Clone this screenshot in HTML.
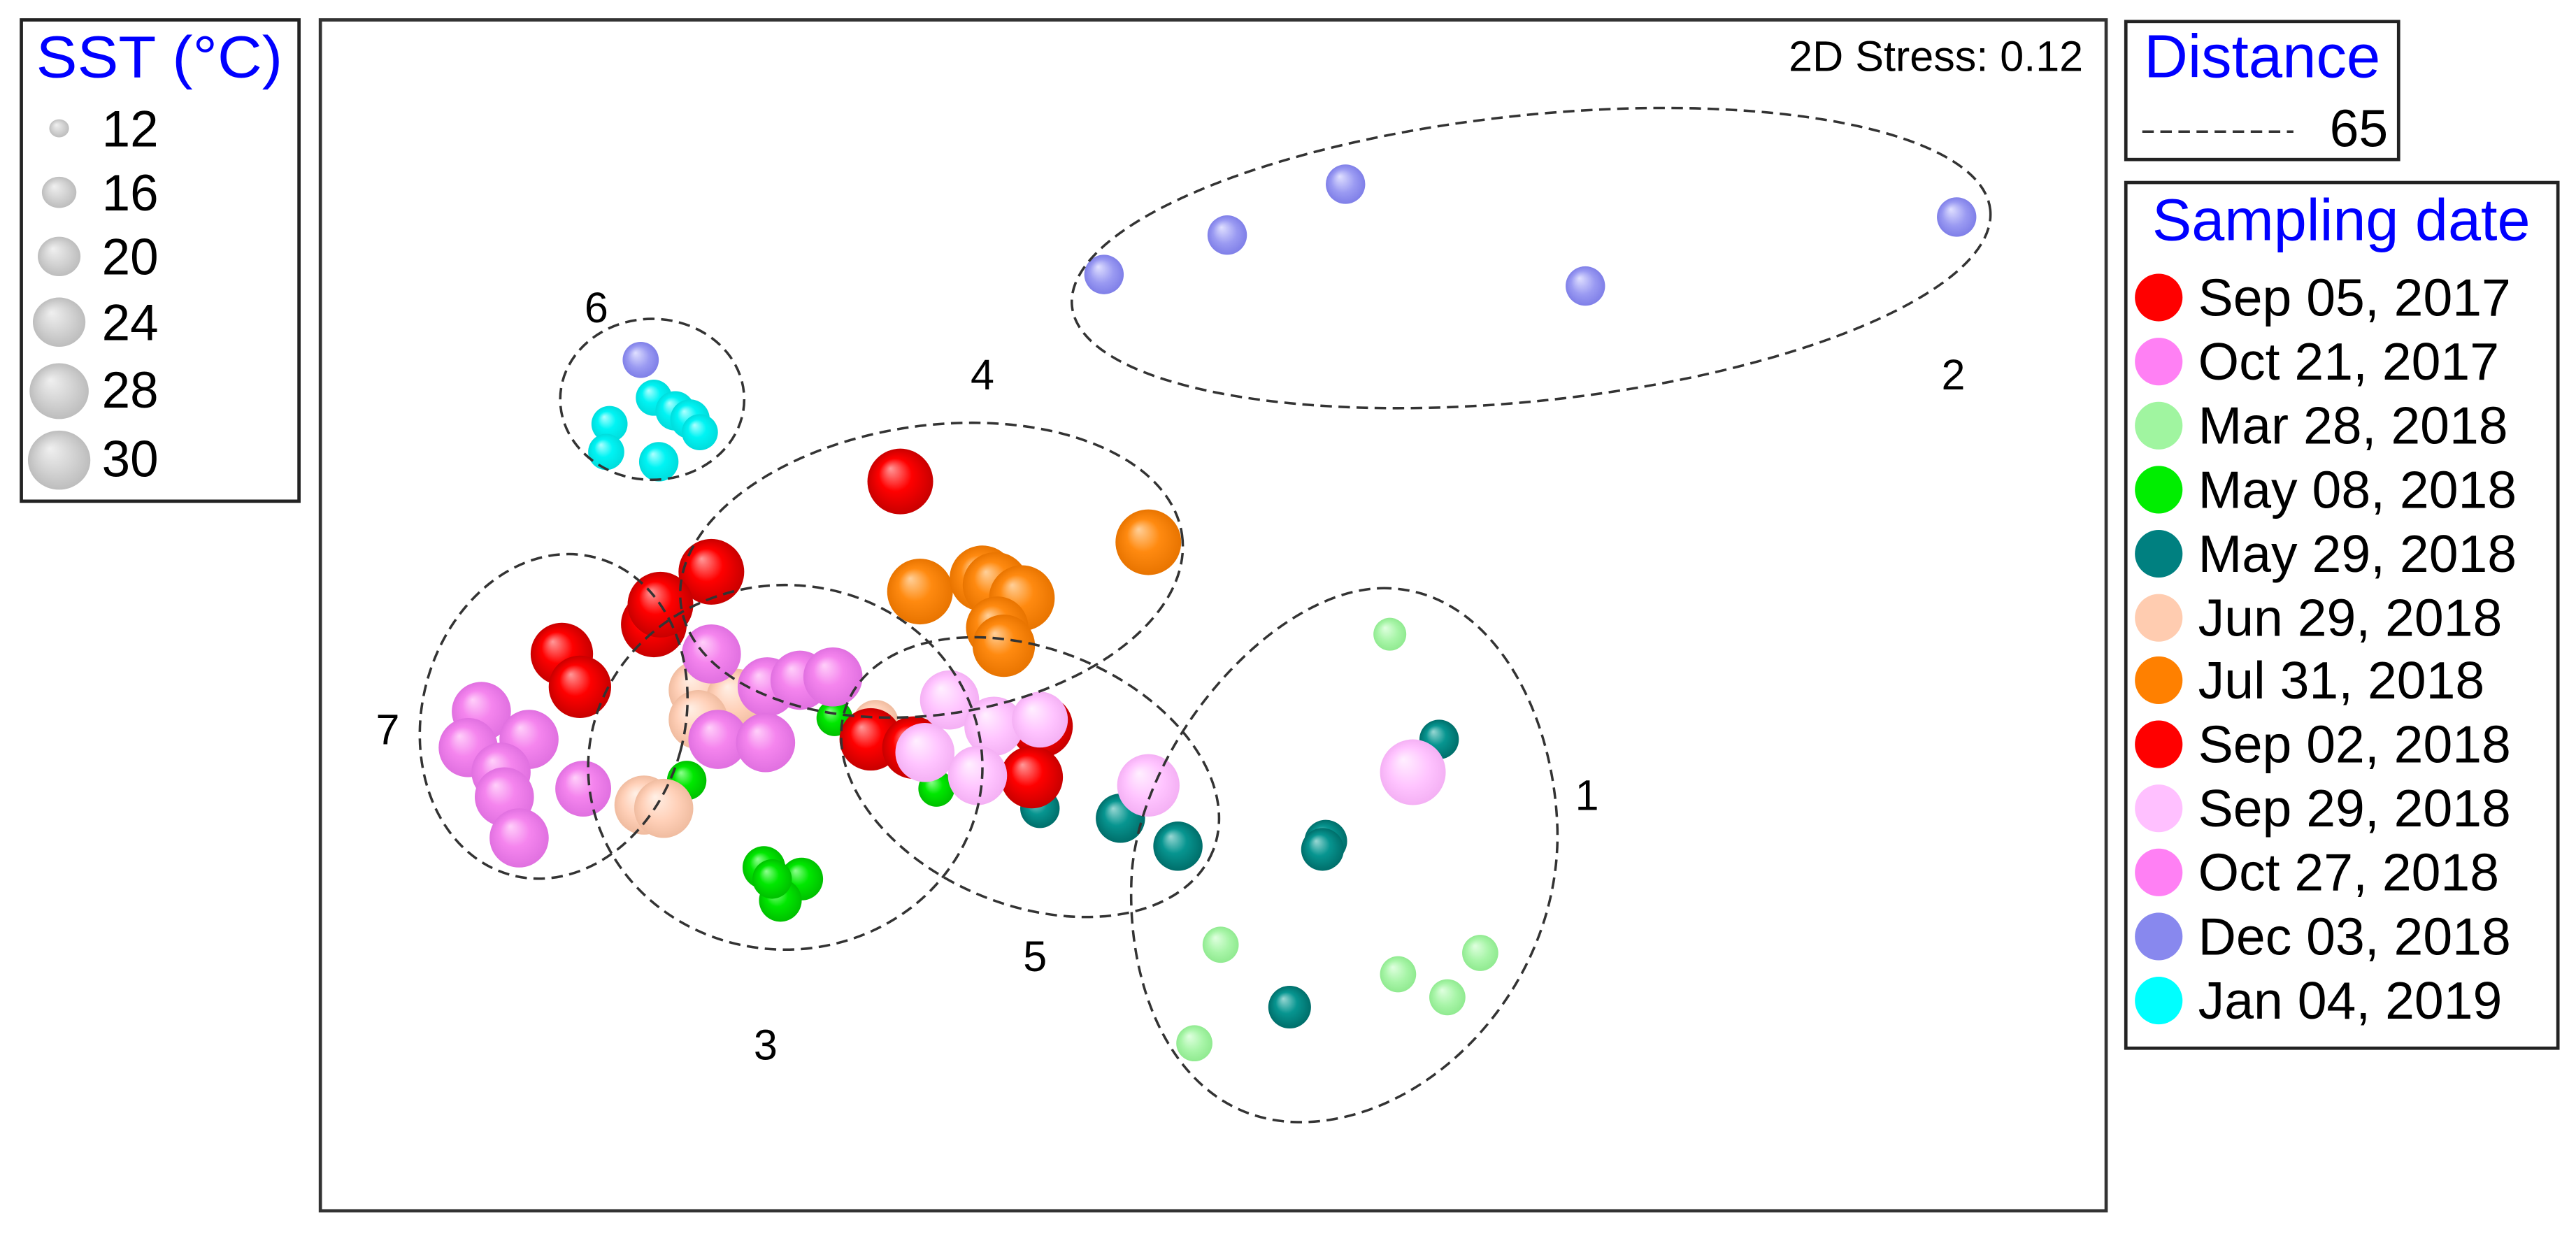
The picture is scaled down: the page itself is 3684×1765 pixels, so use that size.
<!DOCTYPE html>
<html><head><meta charset="utf-8"><style>
html,body{margin:0;padding:0;background:#fff;}
svg{display:block;}
text{font-family:"Liberation Sans",Arial,sans-serif;}
</style></head><body>
<svg width="3684" height="1765" viewBox="0 0 1568 751" xmlns="http://www.w3.org/2000/svg">
<defs>
<radialGradient id="gr" cx="0.5" cy="0.5" r="0.5" fx="0.35" fy="0.3"><stop offset="0" stop-color="#ff9a9a"/><stop offset="0.5" stop-color="#f00"/><stop offset="1" stop-color="#c80000"/></radialGradient>
<radialGradient id="gp" cx="0.5" cy="0.5" r="0.5" fx="0.35" fy="0.3"><stop offset="0" stop-color="#ffd0fa"/><stop offset="0.5" stop-color="#f585ee"/><stop offset="1" stop-color="#e070e0"/></radialGradient>
<radialGradient id="glg" cx="0.5" cy="0.5" r="0.5" fx="0.35" fy="0.3"><stop offset="0" stop-color="#e0ffe0"/><stop offset="0.6" stop-color="#a8f5a8"/><stop offset="1" stop-color="#90ea90"/></radialGradient>
<radialGradient id="gg" cx="0.5" cy="0.5" r="0.5" fx="0.35" fy="0.3"><stop offset="0" stop-color="#90ff90"/><stop offset="0.5" stop-color="#00e800"/><stop offset="1" stop-color="#00c000"/></radialGradient>
<radialGradient id="gt" cx="0.5" cy="0.5" r="0.5" fx="0.35" fy="0.3"><stop offset="0" stop-color="#9ad8d4"/><stop offset="0.5" stop-color="#079590"/><stop offset="1" stop-color="#006e6a"/></radialGradient>
<radialGradient id="gpe" cx="0.5" cy="0.5" r="0.5" fx="0.35" fy="0.3"><stop offset="0" stop-color="#fff0e6"/><stop offset="0.6" stop-color="#ffd0b8"/><stop offset="1" stop-color="#f0bca0"/></radialGradient>
<radialGradient id="go" cx="0.5" cy="0.5" r="0.5" fx="0.35" fy="0.3"><stop offset="0" stop-color="#ffd09a"/><stop offset="0.5" stop-color="#ff8a10"/><stop offset="1" stop-color="#e87400"/></radialGradient>
<radialGradient id="glp" cx="0.5" cy="0.5" r="0.5" fx="0.35" fy="0.3"><stop offset="0" stop-color="#fff0ff"/><stop offset="0.6" stop-color="#ffc4ff"/><stop offset="1" stop-color="#f4b0f4"/></radialGradient>
<radialGradient id="gl" cx="0.5" cy="0.5" r="0.5" fx="0.35" fy="0.3"><stop offset="0" stop-color="#e0e0ff"/><stop offset="0.6" stop-color="#9a9af2"/><stop offset="1" stop-color="#7f7fe8"/></radialGradient>
<radialGradient id="gc" cx="0.5" cy="0.5" r="0.5" fx="0.35" fy="0.3"><stop offset="0" stop-color="#b0ffff"/><stop offset="0.5" stop-color="#00f4f4"/><stop offset="1" stop-color="#00dcdc"/></radialGradient>
<radialGradient id="ggr" cx="0.5" cy="0.5" r="0.5" fx="0.35" fy="0.3"><stop offset="0" stop-color="#f0f0f0"/><stop offset="0.6" stop-color="#d2d2d2"/><stop offset="1" stop-color="#bdbdbd"/></radialGradient>
</defs>

<!-- SST legend -->
<rect x="13" y="12" width="169" height="293" fill="#fff" stroke="#222" stroke-width="2"/>
<text x="22" y="47" font-size="36" fill="#0000ff" textLength="150" lengthAdjust="spacingAndGlyphs">SST (°C)</text>
<g fill="url(#ggr)">
<ellipse cx="36" cy="78" rx="6" ry="5.5"/>
<ellipse cx="36" cy="117" rx="10.5" ry="9.5"/>
<ellipse cx="36" cy="156" rx="13" ry="12"/>
<ellipse cx="36" cy="196" rx="16" ry="15"/>
<ellipse cx="36" cy="238" rx="18" ry="17"/>
<ellipse cx="36" cy="280" rx="19" ry="18"/>
</g>
<g font-size="31" fill="#000">
<text x="62" y="89">12</text><text x="62" y="128">16</text><text x="62" y="167">20</text>
<text x="62" y="207">24</text><text x="62" y="248">28</text><text x="62" y="290">30</text>
</g>

<!-- main plot -->
<rect x="195" y="12" width="1087" height="725" fill="none" stroke="#333" stroke-width="2"/>
<text x="1268" y="43" font-size="26" text-anchor="end" fill="#000">2D Stress: 0.12</text>

<!-- distance legend -->
<rect x="1294" y="13" width="166" height="84" fill="#fff" stroke="#222" stroke-width="2"/>
<text x="1305" y="47" font-size="37" fill="#0000ff">Distance</text>
<line x1="1304" y1="80" x2="1396" y2="80" stroke="#333" stroke-width="1.5" stroke-dasharray="7,4"/>
<text x="1418" y="89" font-size="32" fill="#000">65</text>

<!-- sampling legend -->
<rect x="1294" y="111" width="263" height="527" fill="#fff" stroke="#222" stroke-width="2"/>
<text x="1310" y="146" font-size="36" fill="#0000ff">Sampling date</text>
<g>
<circle cx="1314" cy="181" r="14.5" fill="#ff0000"/>
<circle cx="1314" cy="220" r="14.5" fill="#ff80f4"/>
<circle cx="1314" cy="259" r="14.5" fill="#a0f5a0"/>
<circle cx="1314" cy="298" r="14.5" fill="#00ee00"/>
<circle cx="1314" cy="337" r="14.5" fill="#008080"/>
<circle cx="1314" cy="376" r="14.5" fill="#ffccb0"/>
<circle cx="1314" cy="414" r="14.5" fill="#ff8000"/>
<circle cx="1314" cy="453" r="14.5" fill="#ff0000"/>
<circle cx="1314" cy="492" r="14.5" fill="#ffc0ff"/>
<circle cx="1314" cy="531" r="14.5" fill="#ff80f4"/>
<circle cx="1314" cy="570" r="14.5" fill="#8888ee"/>
<circle cx="1314" cy="609" r="14.5" fill="#00ffff"/>
</g>
<g font-size="32" fill="#000">
<text x="1338" y="192">Sep 05, 2017</text>
<text x="1338" y="231">Oct 21, 2017</text>
<text x="1338" y="270">Mar 28, 2018</text>
<text x="1338" y="309">May 08, 2018</text>
<text x="1338" y="348">May 29, 2018</text>
<text x="1338" y="387">Jun 29, 2018</text>
<text x="1338" y="425">Jul 31, 2018</text>
<text x="1338" y="464">Sep 02, 2018</text>
<text x="1338" y="503">Sep 29, 2018</text>
<text x="1338" y="542">Oct 27, 2018</text>
<text x="1338" y="581">Dec 03, 2018</text>
<text x="1338" y="620">Jan 04, 2019</text>
</g>

<!-- points -->
<g>
<g fill="url(#gl)">
<circle cx="672" cy="167" r="12"/><circle cx="747" cy="143" r="12"/><circle cx="819" cy="112" r="12"/>
<circle cx="965" cy="174" r="12"/><circle cx="1191" cy="132" r="12"/><circle cx="390" cy="219" r="11"/>
</g>
<g fill="url(#gc)">
<circle cx="398" cy="242" r="11"/><circle cx="411" cy="250" r="12"/><circle cx="420" cy="255" r="12"/><circle cx="426" cy="263" r="11"/>
<circle cx="371" cy="258" r="11"/><circle cx="369" cy="275" r="11"/><circle cx="401" cy="281" r="12"/>
</g>
<g fill="url(#glg)">
<circle cx="846" cy="386" r="10"/><circle cx="743" cy="575" r="11"/><circle cx="727" cy="635" r="11"/>
<circle cx="851" cy="593" r="11"/><circle cx="881" cy="607" r="11"/><circle cx="901" cy="580" r="11"/>
</g>
<g fill="url(#gt)">
<circle cx="876" cy="450" r="12"/><circle cx="807" cy="512" r="13"/><circle cx="805" cy="517" r="13"/>
<circle cx="682" cy="498" r="15"/><circle cx="717" cy="515" r="15"/><circle cx="633" cy="492" r="12"/><circle cx="785" cy="613" r="13"/>
</g>
<g fill="url(#gg)">
<circle cx="465" cy="528" r="13"/><circle cx="488" cy="535" r="13"/><circle cx="475" cy="548" r="13"/><circle cx="470" cy="535" r="12"/>
<circle cx="418" cy="475" r="12"/><circle cx="570" cy="480" r="11"/><circle cx="508" cy="437" r="11"/>
</g>
<g fill="url(#go)">
<circle cx="699" cy="330" r="20"/><circle cx="560" cy="360" r="20"/><circle cx="598" cy="352" r="20"/>
<circle cx="606" cy="356" r="20"/><circle cx="622" cy="364" r="20"/><circle cx="607" cy="382" r="19"/><circle cx="611" cy="393" r="19"/>
</g>
<g fill="url(#gpe)">
<circle cx="425" cy="420" r="18"/><circle cx="448" cy="425" r="18"/><circle cx="425" cy="438" r="18"/>
<circle cx="392" cy="490" r="18"/><circle cx="404" cy="492" r="18"/><circle cx="533" cy="440" r="14"/>
</g>
<g fill="url(#gr)">
<circle cx="548" cy="293" r="20"/><circle cx="433" cy="348" r="20"/><circle cx="398" cy="380" r="20"/><circle cx="402" cy="368" r="20"/>
<circle cx="342" cy="398" r="19"/><circle cx="353" cy="418" r="19"/><circle cx="530" cy="450" r="19"/><circle cx="556" cy="455" r="19"/>
<circle cx="634" cy="442" r="19"/><circle cx="628" cy="473" r="19"/>
</g>
<g fill="url(#gp)">
<circle cx="293" cy="433" r="18"/><circle cx="322" cy="450" r="18"/><circle cx="285" cy="455" r="18"/><circle cx="305" cy="470" r="18"/>
<circle cx="307" cy="485" r="18"/><circle cx="316" cy="510" r="18"/><circle cx="355" cy="480" r="17"/>
<circle cx="433" cy="398" r="18"/><circle cx="467" cy="418" r="18"/><circle cx="487" cy="414" r="18"/><circle cx="507" cy="412" r="18"/>
<circle cx="437" cy="450" r="18"/><circle cx="466" cy="452" r="18"/>
</g>
<g fill="url(#glp)">
<circle cx="578" cy="426" r="18"/><circle cx="605" cy="442" r="18"/><circle cx="633" cy="438" r="17"/>
<circle cx="563" cy="458" r="18"/><circle cx="595" cy="472" r="18"/><circle cx="699" cy="478" r="19"/><circle cx="860" cy="470" r="20"/>
</g>
</g>

<!-- cluster outlines -->
<g fill="none" stroke="#333" stroke-width="1.5" stroke-dasharray="7,4">
<ellipse cx="932" cy="157" rx="281" ry="87" transform="rotate(-6 932 157)"/>
<ellipse cx="397" cy="243" rx="56" ry="49"/>
<ellipse cx="567" cy="347" rx="154" ry="88" transform="rotate(-8 567 347)"/>
<ellipse cx="337" cy="436" rx="80" ry="100" transform="rotate(15 337 436)"/>
<ellipse cx="478" cy="467" rx="120" ry="111"/>
<ellipse cx="627" cy="473" rx="120" ry="78" transform="rotate(22 627 473)"/>
<path d="M840 358 C905 356 946 430 948 505 C950 600 870 684 790 683 C718 682 684 605 689 530 C696 450 775 360 840 358 Z"/>
</g>

<!-- cluster labels -->
<g font-size="26" fill="#000" text-anchor="middle">
<text x="363" y="196">6</text><text x="598" y="237">4</text><text x="1189" y="237">2</text>
<text x="236" y="453">7</text><text x="966" y="493">1</text><text x="630" y="591">5</text><text x="466" y="645">3</text>
</g>
</svg>
</body></html>
